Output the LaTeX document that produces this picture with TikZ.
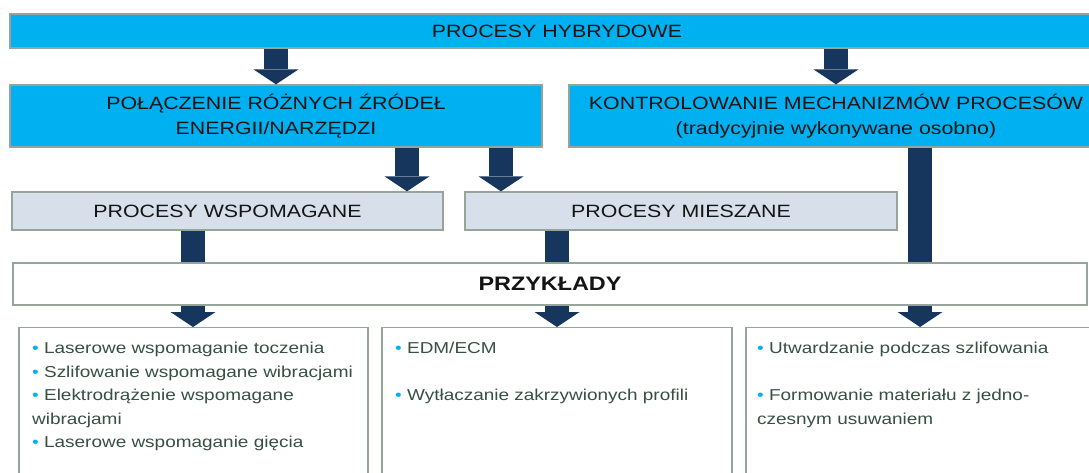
\documentclass[tikz,border=0pt]{standalone}
\usepackage{fontspec}
\setmainfont[FakeStretch=1.2]{Liberation Sans}
\usetikzlibrary{arrows.meta, positioning}
\definecolor{hybcyan}{RGB}{0, 176, 240}
\definecolor{subgray}{RGB}{214, 223, 234}
\definecolor{arrnavy}{RGB}{23, 54, 93}
\definecolor{boxline}{RGB}{150, 165, 155}
\definecolor{headtext}{RGB}{20, 20, 20}
\definecolor{listgreen}{RGB}{55, 80, 65}
\newcommand{\headfont}{\fontsize{17.8}{25}\selectfont}
\newcommand{\listfont}{\fontsize{15.8}{23.5}\selectfont}
\newcommand{\listbullet}{\textcolor{hybcyan}{\textbullet}}
\tikzset{
    box/.style={draw=boxline, line width=1.2pt, rectangle, inner sep=0pt},
    mainbox/.style={box, fill=hybcyan, font=\headfont, text=headtext, align=center},
    subbox/.style={box, fill=subgray, font=\headfont, text=headtext},
    examplebox/.style={box, fill=white},
    listtext/.style={anchor=north west, align=left, font=\listfont, text=listgreen, inner sep=0pt},
    blockarrow/.style={draw=arrnavy, line width=24pt, -{Triangle[width=45pt, length=15pt, line width=0pt]}},
}

\begin{document}
\begin{tikzpicture}[x=1pt, y=-1pt]
    \useasboundingbox (0,0) rectangle (1089,472);
    \clip (0,0) rectangle (1089,472);

    % top level
    \node[mainbox, minimum width=1094pt, minimum height=34pt] (hyb) at (557,31) {PROCESY HYBRYDOWE};

    % second level
    \node[mainbox, minimum width=532pt, minimum height=62pt] (pol) at (276,116) {POŁĄCZENIE RÓŻNYCH ŹRÓDEŁ\\ENERGII/NARZĘDZI};
    \node[mainbox, minimum width=534pt, minimum height=62pt] (kon) at (836,116) {KONTROLOWANIE MECHANIZMÓW PROCESÓW\\(tradycyjnie wykonywane osobno)};

    % process kinds
    \node[subbox, minimum width=431pt, minimum height=38pt] (wsp) at (227.5,211) {PROCESY WSPOMAGANE};
    \node[subbox, minimum width=432pt, minimum height=38pt] (mie) at (681,211) {PROCESY MIESZANE};

    % example boxes
    \node[examplebox, anchor=north, minimum width=349pt, minimum height=170pt] (exa) at (193.5,327) {};
    \node[examplebox, anchor=north, minimum width=350pt, minimum height=170pt] (exb) at (557,327) {};
    \node[examplebox, anchor=north, minimum width=354pt, minimum height=170pt] (exc) at (923,327) {};

    \node[listtext] (txa) at (32,342) {\listbullet{} Laserowe wspomaganie toczenia\\
        \listbullet{} Szlifowanie wspomagane wibracjami\\
        \listbullet{} Elektrodrążenie wspomagane\\
        wibracjami\\
        \listbullet{} Laserowe wspomaganie gięcia};
    \node[listtext] (txb) at (395,342) {\listbullet{} EDM/ECM\\[23.5pt]
        \listbullet{} Wytłaczanie zakrzywionych profili};
    \node[listtext] (txc) at (757,342) {\listbullet{} Utwardzanie podczas szlifowania\\[23.5pt]
        \listbullet{} Formowanie materiału z jedno-\\
        czesnym usuwaniem};

    % arrow columns
    \coordinate (c1) at (276,0);
    \coordinate (c2) at (836,0);
    \coordinate (c3) at (407,0);
    \coordinate (c4) at (501,0);
    \coordinate (c5) at (193,0);
    \coordinate (c6) at (557,0);
    \coordinate (c7) at (920,0);

    \draw[blockarrow] (hyb.south -| c1) -- (pol.north -| c1);
    \draw[blockarrow] (hyb.south -| c2) -- (kon.north -| c2);
    \draw[blockarrow] (pol.south -| c3) -- (wsp.north -| c3);
    \draw[blockarrow] (pol.south -| c4) -- (mie.north -| c4);
    \draw[blockarrow] (wsp.south -| c5) -- (exa.north -| c5);
    \draw[blockarrow] (mie.south -| c6) -- (exb.north -| c6);
    \draw[blockarrow] (kon.south -| c7) -- (exc.north -| c7);

    % examples bar on top of the shafts
    \node[box, fill=white, minimum width=1074pt, minimum height=42pt, font=\fontsize{19.5}{24}\selectfont\bfseries, text=headtext] (prz) at (550,284) {PRZYKŁADY};
\end{tikzpicture}
\end{document}
